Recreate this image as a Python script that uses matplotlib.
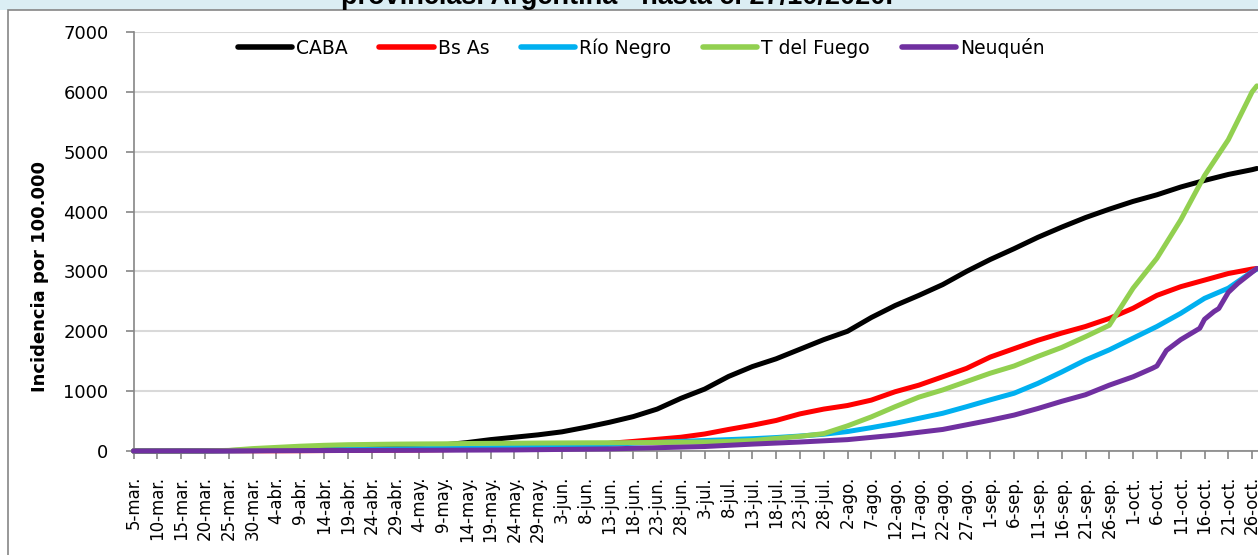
import numpy as np
import pandas as pd
import matplotlib
matplotlib.use("Agg")
import matplotlib.pyplot as plt
from matplotlib.patches import Rectangle
from matplotlib.lines import Line2D

### datos: un punto cada 5 dias desde el 5-mar y el ultimo el 27-oct
fechas = list(pd.date_range("2020-03-05", "2020-10-26", freq="5D")) + [pd.Timestamp("2020-10-27")]

caba = [0, 0, 1, 3, 8, 15, 25, 35, 45, 55,
        62, 70, 80, 100, 140, 190, 230, 270, 320, 396,
        480, 575, 700, 880, 1035, 1245, 1410, 1540, 1700, 1860,
        2000, 2230, 2430, 2600, 2780, 3000, 3200, 3380, 3570, 3740,
        3900, 4040, 4170, 4280, 4410, 4520, 4620, 4700, 4720]

bs_as = [0, 0, 0, 1, 2, 3, 4, 5, 7, 9,
         12, 15, 18, 22, 28, 35, 45, 55, 70, 90,
         128, 160, 195, 230, 284, 360, 430, 510, 620, 700,
         760, 850, 990, 1100, 1240, 1380, 1570, 1710, 1850, 1970,
         2080, 2215, 2385, 2600, 2745, 2855, 2965, 3040, 3050]

rio_negro = [0, 0, 0, 1, 3, 6, 10, 15, 20, 25,
             30, 35, 40, 45, 50, 55, 60, 68, 75, 90,
             110, 130, 145, 160, 175, 190, 205, 225, 250, 280,
             325, 390, 462, 546, 630, 740, 855, 965, 1130, 1320,
             1520, 1690, 1885, 2080, 2300, 2550, 2720, 2995, 3040]

t_del_fuego = [0, 0, 0, 3, 10, 40, 60, 80, 95, 105,
               110, 115, 118, 120, 125, 128, 130, 133, 135, 137,
               138, 140, 142, 145, 150, 160, 175, 210, 245, 290,
               420, 570, 740, 900, 1020, 1160, 1300, 1420, 1580, 1730,
               1910, 2100, 2720, 3220, 3860, 4600, 5200, 6000, 6100]

### Neuquen tiene saltos al final, lleva fechas propias
fechas_neuquen = pd.to_datetime([
    "2020-03-05", "2020-03-25", "2020-04-14", "2020-05-04", "2020-05-24",
    "2020-06-13", "2020-06-23", "2020-07-03", "2020-07-13", "2020-07-23",
    "2020-08-02", "2020-08-12", "2020-08-22", "2020-09-01", "2020-09-06",
    "2020-09-11", "2020-09-16", "2020-09-21", "2020-09-26", "2020-10-01",
    "2020-10-05", "2020-10-06", "2020-10-08", "2020-10-11", "2020-10-15",
    "2020-10-16", "2020-10-18", "2020-10-19", "2020-10-21", "2020-10-23",
    "2020-10-27"])
neuquen = [0, 2, 8, 12, 18,
           35, 55, 75, 115, 150,
           190, 265, 360, 515, 600,
           710, 830, 940, 1100, 1240,
           1380, 1420, 1680, 1860, 2050,
           2200, 2330, 2380, 2650, 2800,
           3050]

nombres = ["CABA", "Bs As", "Río Negro", "T del Fuego", "Neuquén"]
colores = ["#000000", "#ff0000", "#00b0f0", "#92d050", "#7030a0"]
meses = {3: "mar", 4: "abr", 5: "may", 6: "jun", 7: "jul", 8: "ago", 9: "sep", 10: "oct"}

inicio = pd.Timestamp("2020-03-05")
def dias(f):
    return np.array([(x - inicio).days for x in f])

W, H = 1258, 555
fig = plt.figure(figsize=(W / 100, H / 100), dpi=100)
fig.patch.set_facecolor("white")

### franja celeste de arriba y el marco del grafico (detras de los ejes)
fig.patches.append(Rectangle((0, 1 - 10 / H), 1, 10 / H, transform=fig.transFigure,
                             facecolor="#dbeef4", edgecolor="none", zorder=-5))
fig.patches.append(Rectangle((8 / W, -0.2), 2, 1.2 - 10 / H, transform=fig.transFigure,
                             facecolor="white", edgecolor="#868686", lw=1.2, zorder=-4))
fig.text(617 / W, 1 - 3.5 / H, "provincias. Argentina - hasta el 27/10/2020.",
         ha="center", va="baseline", fontsize=19.5, fontweight="bold",
         family="Liberation Sans", zorder=3)

ax = fig.add_axes([133.5 / W, (H - 451) / H, 1 - 133.5 / W, (451 - 32) / H])
ax.set_facecolor("none")

x_series = [dias(fechas)] * 4 + [dias(fechas_neuquen)]
y_series = [caba, bs_as, rio_negro, t_del_fuego, neuquen]
for xs, ys, c, n in zip(x_series, y_series, colores, nombres):
    ax.plot(xs, ys, color=c, lw=3.6, label=n, clip_on=False, zorder=3,
            solid_joinstyle="round", solid_capstyle="round")

ax.set_ylim(0, 7000)
ax.set_yticks(np.arange(0, 7001, 1000))
ax.set_xlim(0, (W - 133.5) / 4.76)

ticks = pd.date_range("2020-03-05", "2020-10-26", freq="5D")
ax.set_xticks(dias(ticks))
ax.set_xticklabels([f"{t.day}-{meses[t.month]}." for t in ticks], rotation=90, fontsize=12)
ax.tick_params(axis="y", labelsize=13, length=6, width=1.2, color="#868686", pad=12)
ax.tick_params(axis="x", length=6, width=1.2, color="#868686", pad=12)

ax.grid(axis="y", color="#d9d9d9", lw=1.5, zorder=0)
ax.set_axisbelow(True)
for s in ["top", "right"]:
    ax.spines[s].set_visible(False)
for s in ["left", "bottom"]:
    ax.spines[s].set_color("#868686")
    ax.spines[s].set_linewidth(1.2)

fig.text(40 / W, 1 - 276 / H, "Incidencia por 100.000", rotation=90, ha="center", va="center",
         fontsize=13, fontweight="bold")

manijas = [Line2D([], [], color=c, lw=4, solid_capstyle="round") for c in colores]
fig.legend(manijas, nombres, loc="center", bbox_to_anchor=(641 / W, 1 - 48 / H), ncol=5,
           frameon=False, fontsize=13.5, handlelength=2.9, handletextpad=0.2, columnspacing=1.7)

fig.savefig("out.png", dpi=100, facecolor=fig.get_facecolor())
